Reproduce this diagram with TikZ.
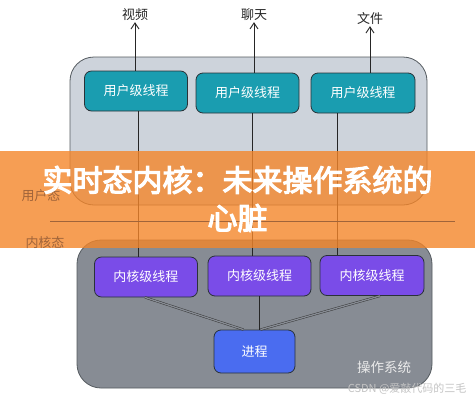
\documentclass[tikz,border=0pt]{standalone}
\usepackage{fontspec}
\setmainfont{Noto Sans CJK SC}
\newfontfamily\cjk{Noto Sans CJK SC}
\newfontfamily\cjkb[FakeBold=4]{Noto Sans CJK SC}
\usetikzlibrary{arrows.meta,calc}
\definecolor{ubg}{HTML}{CDD3DB}
\definecolor{kbg}{HTML}{878C94}
\definecolor{teal1}{HTML}{1A9DB0}
\definecolor{purp}{HTML}{7A4CE8}
\definecolor{blu}{HTML}{4A6CF0}
\definecolor{band}{HTML}{F4862A}
\definecolor{edge}{HTML}{2A3238}
\definecolor{wm}{HTML}{C4C4C4}
\definecolor{sidec}{HTML}{A0643A}
\tikzset{
  space/.style={draw=edge!80, line width=0.8pt, rounded corners=24pt},
  thread/.style={draw=edge, line width=0.8pt, rounded corners=7pt, minimum height=40pt,
     inner sep=0pt, font=\cjk\fontsize{13}{13}\selectfont, text=white},
  uth/.style={thread, fill=teal1, minimum width=103pt},
  kth/.style={thread, fill=purp, minimum width=103pt},
  proc/.style={thread, fill=blu, minimum width=81pt, minimum height=43pt},
  lbl/.style={font=\cjk\fontsize{13}{13}\selectfont, text=black!85, inner sep=1pt},
  side/.style={font=\cjk\fontsize{13}{13}\selectfont, text=sidec, inner sep=0pt},
  arr/.style={-{Straight Barb[length=6pt,width=8pt]}, line width=0.9pt, black!85},
  link/.style={line width=0.8pt, black!85},
  dlink/.style={draw=black!80, line width=0.45pt, double=kbg, double distance=1.3pt},
  title/.style={font=\cjkb\fontsize{30}{38}\selectfont, text=white, align=center},
}
\begin{document}
\begin{tikzpicture}[x=1pt,y=-1pt]
\useasboundingbox[fill=white] (0,0) rectangle (475,400);
% spaces
\draw[space, fill=ubg] (70,57) rectangle (427,205);
\draw[space, fill=kbg] (77,240) rectangle (432,388);
% user threads
\node[uth] (u1) at (136,91) {用户级线程};
\node[uth] (u2) at (247.5,93) {用户级线程};
\node[uth, minimum width=104pt] (u3) at (363,93) {用户级线程};
% top labels
\node[lbl] (v) at (135,15) {视频};
\node[lbl] (c) at (254,15) {聊天};
\node[lbl] (f) at (370,19) {文件};
\draw[arr] (v |- u1.north) -- (v.south);
\draw[arr] (c |- u2.north) -- (c.south);
\draw[arr] (f |- u3.north) -- (f.south);
% kernel threads
\node[kth] (k1) at (146,277) {内核级线程};
\node[kth] (k2) at (259.5,276) {内核级线程};
\node[kth, minimum width=104pt] (k3) at (372,275.5) {内核级线程};
% user -> kernel lines
\draw[link] ([xshift=2pt]u1.south) -- ([xshift=2pt]u1.south |- k1.north);
\draw[link] ([xshift=5pt]u2.south) -- ([xshift=5pt]u2.south |- k2.north);
\draw[link] ([xshift=-26pt]u3.south) -- ([xshift=-26pt]u3.south |- k3.north);
% process
\node[proc] (p) at (254.5,351.5) {进程};
\draw[dlink] ([xshift=-1pt]k1.south) -- ([xshift=-11pt]p.north);
\draw[link] (k2.south) -- (k2.south |- p.north);
\draw[dlink] ([xshift=8pt]k3.south) -- ([xshift=6pt]p.north);
% os label
\node[font=\cjk\fontsize{13.5}{14}\selectfont, text=white!92!black] (os) at (384,367) {操作系统};
% band
\fill[band, opacity=0.8] (0,151) rectangle (475,248);
% side labels (seen through the band)
\node[side] (us) at (41,196) {用户态};
\node[side] (ks) at (45,243) {内核态};
\coordinate (sl) at (50,221);
\coordinate (sr) at (455,221);
\draw[sidec, line width=0.7pt] (sl) -- (sr);
\node[title] (t) at (237.5,199) {实时态内核：未来操作系统的\\心脏};
% watermark
\node[font=\cjk\fontsize{11}{11}\selectfont, text=wm, anchor=east] (w) at (470,389) {CSDN @爱敲代码的三毛};
\end{tikzpicture}
\end{document}
